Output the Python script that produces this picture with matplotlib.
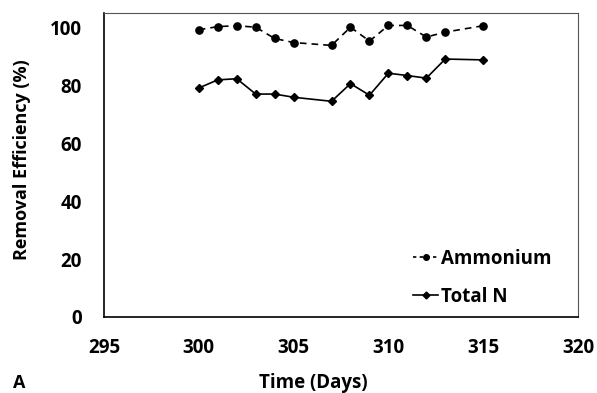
import matplotlib
matplotlib.use("Agg")
import matplotlib.pyplot as plt
from matplotlib.lines import Line2D

# Data
days_amm = [300, 301, 302, 303, 304, 305, 307, 308, 309, 310, 311, 312, 313, 315]
ammonium = [99.2, 100.3, 100.6, 100.1, 96.2, 94.8, 93.8, 100.1, 95.3, 100.7, 100.7, 96.7, 98.4, 100.6]

days_tn = [300, 301, 302, 303, 304, 305, 307, 308, 309, 310, 311, 312, 313, 315]
total_n = [79.1, 81.9, 82.3, 77.0, 77.0, 75.9, 74.5, 80.6, 76.6, 84.2, 83.4, 82.5, 89.1, 88.8]

x_ticks = [295, 300, 305, 310, 315, 320]
y_ticks = [0, 20, 40, 60, 80, 100]

plt.rcParams["font.family"] = ["Open Sans", "DejaVu Sans"]
plt.rcParams["font.weight"] = "bold"

W, H = 597, 393
fig = plt.figure(figsize=(W / 100, H / 100), dpi=100)
ax = fig.add_axes([104 / W, 1 - 317 / H, (578 - 104) / W, (317 - 13) / H])

ax.plot(days_amm, ammonium, color="black", lw=1.2, ls=(0, (4, 3)),
        marker="o", ms=5.2, label="Ammonium")
ax.plot(days_tn, total_n, color="black", lw=1.2,
        marker="D", ms=4.5, label="Total N")

ax.set_xlim(295, 320)
ax.set_ylim(0, 105)
ax.set_xticks(x_ticks)
ax.set_yticks(y_ticks)
ax.tick_params(length=0, labelsize=13.5)
ax.tick_params(axis="x", pad=15)
ax.tick_params(axis="y", pad=16)
for lab in ax.get_xticklabels() + ax.get_yticklabels():
    lab.set_fontweight("bold")

for side in ["left", "bottom"]:
    ax.spines[side].set_color("black")
    ax.spines[side].set_linewidth(1.2)
for side in ["top", "right"]:
    ax.spines[side].set_color("#555555")
    ax.spines[side].set_linewidth(0.8)

fig.text(22 / W, 1 - 160 / H, "Removal Efficiency (%)", rotation=90,
         ha="center", va="center", fontsize=13, fontweight="bold")
fig.text(313 / W, 1 - 383 / H, "Time (Days)", ha="center", va="center",
         fontsize=13.5, fontweight="bold")
fig.text(19 / W, 1 - 383 / H, "A", ha="center", va="center",
         fontsize=13, fontweight="bold")

handles = [Line2D([], [], color="black", lw=1.2, ls=(0, (2, 2)), marker="o", ms=4),
           Line2D([], [], color="black", lw=1.2, marker="D", ms=3.5)]
fig.legend(handles, ["Ammonium", "Total N"], loc="upper left", frameon=False,
           bbox_to_anchor=(413 / W, 1 - 249 / H), borderpad=0, borderaxespad=0,
           prop={"size": 13.5, "weight": "bold"}, handlelength=1.35,
           handletextpad=0.15, labelspacing=0.95)

fig.savefig("out.png", dpi=100)
